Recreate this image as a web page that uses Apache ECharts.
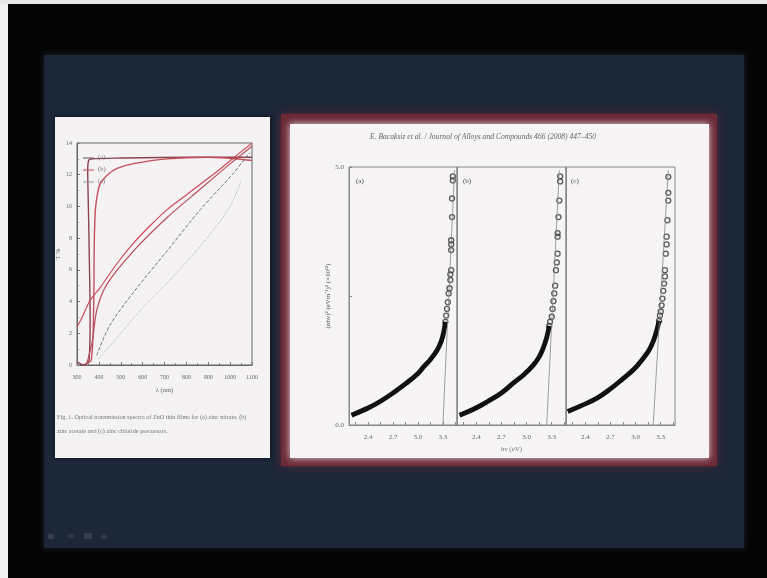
<!DOCTYPE html>
<html>
    <head>
        <meta charset="utf-8">
        <script src="https://cdn.jsdelivr.net/npm/echarts@6/dist/echarts.min.js"></script>
        <style>
            html, body { margin: 0; padding: 0; background: #050505; }
            #main { width: 767px; height: 578px; }
        </style>
    </head>
    <body>
        <div id="main"></div>
        <script>
            // left figure: optical transmission, wavelength (nm) vs T %
            var transA = [[300, 0.2], [330, 0.0], [355, 0.3], [360, 3], [356, 7], [352, 10], [349, 12.2], [353, 12.9], [370, 13.0], [500, 13.05], [800, 13.1], [1100, 13.1]];
            var transB = [[340, 0.1], [365, 0.3], [376, 3.5], [379, 7.7], [384, 9.8], [395, 10.9], [407, 11.45], [440, 12.0], [483, 12.4], [559, 12.7], [712, 13.0], [900, 13.1], [1100, 12.9]];
            var transC = [[400, 0.4], [500, 2.0], [600, 3.6], [700, 5.0], [800, 6.5], [900, 8.1], [1000, 10.0], [1050, 11.6]];
            var dashedLine = [[390, 0.6], [450, 2.5], [559, 4.6], [712, 7.2], [864, 9.8], [1009, 12.0], [1090, 13.4]];
            var redUpper = [[300, 2.4], [323, 3.0], [361, 4.1], [407, 4.9], [483, 6.4], [559, 7.7], [635, 8.8], [712, 9.8], [788, 10.6], [864, 11.4], [940, 12.2], [1001, 12.9], [1100, 14.0]];
            var redLower = [[345, 0.1], [370, 1.5], [391, 3.5], [437, 5.1], [559, 7.2], [712, 9.3], [864, 11.1], [1001, 12.7], [1100, 13.8]];
            var legendNames = ['(a)', '(b)', '(c)'];

            // right figure: (alpha h nu)^2 vs h nu (eV), three panels
            var panelNames = ['(a)', '(b)', '(c)'];
            var denseA = [[2.20, 0.19], [2.40, 0.33], [2.54, 0.45], [2.70, 0.62], [2.86, 0.81], [3.00, 1.0], [3.07, 1.13], [3.15, 1.27], [3.23, 1.45], [3.28, 1.62], [3.31, 1.80], [3.33, 2.0]];
            var circlesA = [[3.33, 2.0], [3.34, 2.12], [3.35, 2.25], [3.36, 2.38], [3.37, 2.55], [3.38, 2.65], [3.39, 2.81], [3.39, 2.92], [3.40, 3.0], [3.40, 3.39], [3.40, 3.5], [3.40, 3.58], [3.41, 4.03], [3.41, 4.39], [3.42, 4.74], [3.42, 4.82]];
            var fitA = [[3.30, 0], [3.44, 4.94]];
            var denseB = [[2.20, 0.19], [2.36, 0.30], [2.53, 0.45], [2.70, 0.62], [2.84, 0.81], [2.97, 0.98], [3.08, 1.16], [3.15, 1.32], [3.20, 1.50], [3.24, 1.70], [3.27, 1.92]];
            var circlesB = [[3.27, 1.92], [3.28, 2.0], [3.30, 2.10], [3.31, 2.25], [3.32, 2.40], [3.33, 2.55], [3.34, 2.7], [3.35, 3.0], [3.36, 3.15], [3.37, 3.32], [3.37, 3.65], [3.37, 3.72], [3.38, 4.03], [3.39, 4.35], [3.40, 4.72], [3.40, 4.82]];
            var fitB = [[3.24, 0], [3.39, 4.94]];
            var denseC = [[2.19, 0.26], [2.36, 0.38], [2.54, 0.52], [2.70, 0.70], [2.85, 0.90], [2.98, 1.08], [3.09, 1.29], [3.16, 1.45], [3.21, 1.62], [3.25, 1.82], [3.28, 2.02]];
            var circlesC = [[3.28, 2.02], [3.29, 2.12], [3.30, 2.2], [3.31, 2.32], [3.32, 2.45], [3.33, 2.6], [3.34, 2.74], [3.35, 2.88], [3.35, 3.0], [3.36, 3.32], [3.37, 3.5], [3.37, 3.65], [3.38, 3.97], [3.39, 4.35], [3.39, 4.5], [3.39, 4.81]];
            var fitC = [[3.21, 0], [3.39, 4.94]];
            var xLabelValues = [2.4, 2.7, 3.0, 3.3];
            var xTickValues = [2.25, 2.4, 2.55, 2.7, 2.85, 3.0, 3.15, 3.3, 3.45];

            var chart = echarts.init(document.getElementById('main'));
            var serif = 'Liberation Serif';

            function rightX(i) {
                return {
                    type: 'value', gridIndex: i, min: 2.17, max: 3.47,
                    axisLine: { lineStyle: { color: '#888', width: 1 } },
                    axisTick: { inside: true, length: 3, lineStyle: { color: '#888' }, customValues: xTickValues },
                    axisLabel: {
                        fontFamily: serif, fontSize: 7, color: '#666', margin: 9,
                        customValues: xLabelValues,
                        formatter: function (v) { return v.toFixed(1); }
                    },
                    splitLine: { show: false },
                    name: i === 2 ? 'h\u03bd (eV)' : '',
                    nameLocation: 'middle', nameGap: 21,
                    nameTextStyle: { fontFamily: serif, fontSize: 7, color: '#777' }
                };
            }
            function rightY(i) {
                return {
                    type: 'value', gridIndex: i, min: 0, max: 5, interval: 2.5,
                    axisLine: { show: true, lineStyle: { color: '#888', width: 1 } },
                    axisTick: { show: i === 1, inside: true, length: 3, lineStyle: { color: '#888' } },
                    axisLabel: {
                        show: i === 1, fontFamily: serif, fontSize: 7, color: '#666', margin: 5,
                        formatter: function (v) { return v === 2.5 ? '' : v.toFixed(1); }
                    },
                    splitLine: { show: false },
                    name: i === 1 ? '(\u03b1h\u03bd)\u00b2 (eVm\u207b\u00b9)\u00b2 (\u00d710\u00b9\u00b2)' : '',
                    nameLocation: 'middle', nameGap: 17, nameRotate: 90,
                    nameTextStyle: { fontFamily: serif, fontSize: 7, color: '#555' }
                };
            }
            function panelSeries(i, dense, circles, fit) {
                return [{
                    type: 'line', xAxisIndex: i, yAxisIndex: i, data: dense, smooth: 0.4,
                    showSymbol: false, lineStyle: { color: '#111', width: 4.8 }, silent: true
                }, {
                    type: 'scatter', xAxisIndex: i, yAxisIndex: i, data: circles, symbolSize: 5,
                    itemStyle: { color: 'rgba(255,255,255,0)', borderColor: '#333', borderWidth: 1.3 }
                }, {
                    type: 'line', xAxisIndex: i, yAxisIndex: i, data: fit, showSymbol: false,
                    lineStyle: { color: '#888', width: 0.8 }
                }];
            }
            function lineSeries(data, color, width, type) {
                return {
                    type: 'line', xAxisIndex: 0, yAxisIndex: 0, data: data,
                    smooth: 0.3, showSymbol: false, symbol: 'none',
                    lineStyle: { color: color, width: width, type: type || 'solid' }
                };
            }
            // small legend of the left figure, drawn as plain lines and text
            var legendColors = ['#555', '#b85560', '#999'];
            var legendItems = [];
            legendNames.forEach(function (name, k) {
                var y = 158 + k * 12;
                legendItems.push({ type: 'line', z: 10, shape: { x1: 83, y1: y, x2: 94, y2: y }, style: { stroke: legendColors[k], lineWidth: 1 } });
                legendItems.push({ type: 'text', z: 10, left: 98, top: y - 4, style: { text: name, font: '6.5px "Liberation Serif"', fill: '#777' } });
            });

            var option = {
                backgroundColor: '#050505',
                animation: false,
                graphic: [
                    { type: 'rect', z: -100, shape: { x: 0, y: 0, width: 8, height: 578 }, style: { fill: '#f2f2f2' } },
                    { type: 'rect', z: -100, shape: { x: 0, y: 0, width: 767, height: 4 }, style: { fill: '#e8e8e8' } },
                    { type: 'rect', z: -99, shape: { x: 44, y: 55, width: 700, height: 493 }, style: { fill: '#1c2738', shadowBlur: 6, shadowColor: '#1c2738' } },
                    { type: 'rect', z: -98, shape: { x: 55, y: 117, width: 215, height: 341 }, style: { fill: '#f5f2f3', shadowBlur: 5, shadowColor: 'rgba(0,0,0,0.6)' } },
                    { type: 'rect', z: -98, shape: { x: 281, y: 114, width: 436, height: 352 }, style: { fill: '#6c2a37', shadowBlur: 8, shadowColor: 'rgba(110,40,55,0.9)' } },
                    { type: 'rect', z: -97, shape: { x: 290, y: 124, width: 419, height: 334 }, style: { fill: '#f6f4f4', shadowBlur: 7, shadowColor: 'rgba(246,240,240,0.9)' } },
                    { type: 'text', z: 10, left: 370, top: 133, style: { text: 'E. Bacaksiz et al. / Journal of Alloys and Compounds 466 (2008) 447\u2013450', font: 'italic 7.6px "Liberation Serif"', fill: '#666' } },
                    { type: 'text', z: 10, left: 356, top: 178, style: { text: panelNames[0], font: '7px "Liberation Serif"', fill: '#444' } },
                    { type: 'text', z: 10, left: 463, top: 178, style: { text: panelNames[1], font: '7px "Liberation Serif"', fill: '#444' } },
                    { type: 'text', z: 10, left: 571, top: 178, style: { text: panelNames[2], font: '7px "Liberation Serif"', fill: '#444' } },
                    { type: 'text', z: 10, left: 57, top: 410, style: { text: 'Fig. 1. Optical transmission spectra of ZnO thin films for (a) zinc nitrate, (b)\nzinc acetate and (c) zinc chloride precursors.', font: '6.2px "Liberation Serif"', fill: '#777', lineHeight: 14 } },
                    { type: 'rect', z: 10, shape: { x: 48, y: 534, width: 6, height: 5 }, style: { fill: 'rgba(255,255,255,0.10)' } },
                    { type: 'rect', z: 10, shape: { x: 68, y: 534, width: 7, height: 4 }, style: { fill: 'rgba(255,255,255,0.08)' } },
                    { type: 'rect', z: 10, shape: { x: 84, y: 533, width: 8, height: 6 }, style: { fill: 'rgba(255,255,255,0.10)' } },
                    { type: 'rect', z: 10, shape: { x: 101, y: 534, width: 6, height: 5 }, style: { fill: 'rgba(255,255,255,0.08)' } }
                ].concat(legendItems),
                grid: [
                    { left: 77, top: 143, width: 175, height: 222, show: true, borderColor: '#666', borderWidth: 1, backgroundColor: 'rgba(0,0,0,0)' },
                    { left: 349, top: 167, width: 108, height: 258, show: true, borderColor: '#888', borderWidth: 1, backgroundColor: 'rgba(0,0,0,0)' },
                    { left: 457, top: 167, width: 109, height: 258, show: true, borderColor: '#888', borderWidth: 1, backgroundColor: 'rgba(0,0,0,0)' },
                    { left: 566, top: 167, width: 109, height: 258, show: true, borderColor: '#888', borderWidth: 1, backgroundColor: 'rgba(0,0,0,0)' }
                ],
                xAxis: [{
                    type: 'value', gridIndex: 0, min: 300, max: 1100, interval: 100,
                    axisLine: { lineStyle: { color: '#666' } },
                    axisTick: { inside: true, length: 3, lineStyle: { color: '#777' } },
                    minorTick: { show: true, splitNumber: 2, length: 2, lineStyle: { color: '#888' } },
                    axisLabel: { fontFamily: serif, fontSize: 6, color: '#666', margin: 9, formatter: function (v) { return String(v); } },
                    splitLine: { show: false },
                    name: '\u03bb (nm)', nameLocation: 'middle', nameGap: 22,
                    nameTextStyle: { fontFamily: serif, fontSize: 6.5, color: '#666' }
                }, rightX(1), rightX(2), rightX(3)],
                yAxis: [{
                    type: 'value', gridIndex: 0, min: 0, max: 14, interval: 2,
                    axisLine: { lineStyle: { color: '#666' } },
                    axisTick: { inside: true, length: 3, lineStyle: { color: '#777' } },
                    minorTick: { show: true, splitNumber: 2, length: 2, lineStyle: { color: '#888' } },
                    axisLabel: { fontFamily: serif, fontSize: 6, color: '#666', margin: 5 },
                    splitLine: { show: false },
                    name: 'T %', nameLocation: 'middle', nameGap: 11, nameRotate: 90,
                    nameTextStyle: { fontFamily: serif, fontSize: 6.5, color: '#666' }
                }, rightY(1), rightY(2), rightY(3)],
                series: [
                    lineSeries(transA, '#8a4450', 1.4),
                    lineSeries(transB, '#c4505e', 1.4),
                    lineSeries(transC, '#aaaaaa', 0.9, 'dotted'),
                    lineSeries(dashedLine, '#666666', 0.9, 'dashed'),
                    lineSeries(redUpper, '#cc4a5a', 1.2),
                    lineSeries(redLower, '#b8505c', 1.2)
                ].concat(
                    panelSeries(1, denseA, circlesA, fitA),
                    panelSeries(2, denseB, circlesB, fitB),
                    panelSeries(3, denseC, circlesC, fitC)
                )
            };

            chart.setOption(option);
        </script>
    </body>
</html>
